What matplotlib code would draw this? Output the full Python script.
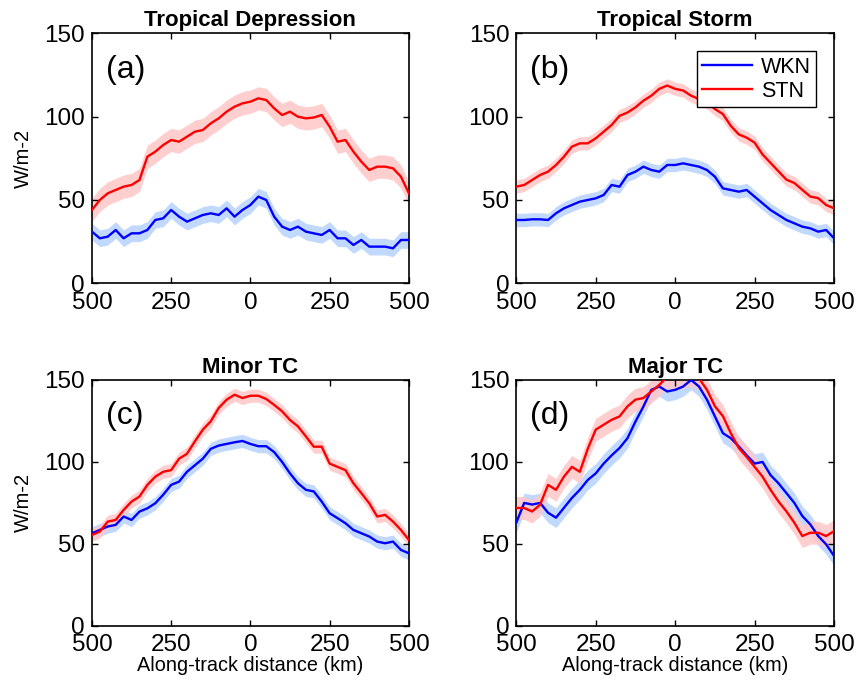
import numpy as np
import matplotlib.pyplot as plt

plt.rcParams['font.family'] = ['Liberation Sans', 'DejaVu Sans']

# ---------- Data ----------

dist = np.arange(-500, 501, 25)

titles = ["Tropical Depression", "Tropical Storm", "Minor TC", "Major TC"]
panel_tags = ["(a)", "(b)", "(c)", "(d)"]

wkn_a = [31, 27, 28, 32, 27, 30, 30, 32, 38, 39, 44, 40, 37, 39, 41, 42, 41, 45, 40, 44, 47,
         52, 50, 40, 34, 32, 34, 31, 30, 29, 32, 27, 27, 23, 26, 22, 22, 22, 21, 26, 26]
stn_a = [44, 50, 54, 56, 58, 59, 62, 76, 79, 83, 86, 85, 88, 91, 92, 96, 99, 103, 106, 108, 109,
         111, 110, 105, 101, 103, 100, 99, 99.5, 101, 94, 85, 86, 79, 73, 68, 70, 70, 69, 64, 54]

wkn_b = [38, 38, 38.4, 38.4, 38, 42, 45, 47, 49, 50, 51, 53, 59, 58, 65, 67, 70, 68, 67, 71, 71,
         72, 71, 70, 68, 64, 57, 56, 55, 56, 52, 48, 44, 41, 38, 36, 34, 33, 31, 32, 27]
stn_b = [58, 59, 62, 65, 67, 71, 76, 82, 84, 84, 87, 91, 95, 100.5, 102.5, 105.6, 109.6, 112.6,
         116.7, 118.7, 116.7, 115.7, 112.6, 110.6, 108.6, 104.6, 101.6, 94.5, 89.4, 87.4, 84.4,
         77.3, 72.3, 67.2, 62.2, 60.2, 56.1, 52.1, 51.1, 47, 45]

wkn_c = [56.5, 58.5, 60.6, 61.6, 66.7, 64.6, 69.7, 71.7, 74.8, 80, 86, 88, 94, 98, 102, 108, 110,
         111, 112, 112.8, 111, 109.6, 109.6, 106, 100, 93, 87, 83, 82, 75.8, 68.7, 65.7, 62.6,
         58.5, 56.5, 54.5, 51.4, 50.4, 51.4, 46.3, 44.3]
stn_c = [55.5, 57.5, 63.6, 64.6, 70.7, 75.8, 78.9, 86, 91, 94, 95, 102, 105, 112.6, 119.7, 124.8,
         132.9, 138, 141, 139, 140.4, 140.4, 138.4, 134.8, 130.9, 125.6, 121.7, 115.6, 109.3,
         109.3, 99, 97, 95, 87, 81, 74.8, 66.7, 67.7, 63.6, 58.5, 52.4]

wkn_d = [62.9, 75, 74, 75, 69, 66, 72, 78, 83, 89, 93, 99, 104, 108.5, 114.5, 124.6, 133.8, 144,
         146, 143, 144, 146, 150, 146, 138, 127.8, 117.6, 114.5, 109.5, 104, 99, 100, 92, 87, 81,
         75, 67, 61.9, 54.8, 49.7, 42.6]
stn_d = [71.9, 71.9, 69.8, 73.9, 86, 83, 91, 97, 94, 108, 119.7, 122.7, 125.7, 127.8, 133.9, 138,
         139, 143, 147, 152, 151, 152, 153, 151, 144, 134, 128, 117.6, 108.5, 103, 97, 91, 83,
         75.9, 69.8, 62.9, 54.8, 56.8, 56.8, 54.8, 57.8]

# half-width of the shaded uncertainty band
wkn_err = [5, 4, 4, 6]
stn_err = [7, 4, 4, 7]

wkn_all = [wkn_a, wkn_b, wkn_c, wkn_d]
stn_all = [stn_a, stn_b, stn_c, stn_d]

xticks = [-500, -250, 0, 250, 500]
xtick_labels = ["500", "250", "0", "250", "500"]
yticks = [0, 50, 100, 150]

# ---------- Figure ----------

fig = plt.figure(figsize=(8.59, 6.81), dpi=100)
positions = [
    [0.107, 0.584, 0.369, 0.367],
    [0.601, 0.584, 0.370, 0.367],
    [0.107, 0.081, 0.369, 0.361],
    [0.601, 0.081, 0.370, 0.361],
]

for i, pos in enumerate(positions):
    ax = fig.add_axes(pos)
    wkn = np.array(wkn_all[i])
    stn = np.array(stn_all[i])

    ax.fill_between(dist, wkn - wkn_err[i], wkn + wkn_err[i], color=(0.76, 0.85, 1.0),
                    lw=0, zorder=1)
    ax.fill_between(dist, stn - stn_err[i], stn + stn_err[i], color=(1.0, 0.78, 0.78),
                    lw=0, alpha=0.85, zorder=1)
    ax.plot(dist, wkn, color=(0.0, 0.0, 1.0), lw=1.7, label="WKN", zorder=3)
    ax.plot(dist, stn, color=(1.0, 0.0, 0.0), lw=1.7, label="STN", zorder=3)

    ax.set_xlim(-500, 500)
    ax.set_ylim(0, 150)
    ax.set_xticks(xticks)
    ax.set_xticklabels(xtick_labels)
    ax.set_yticks(yticks)
    ax.tick_params(direction="in", top=True, right=True, labelsize=17.5, length=4,
                   width=1)
    ax.tick_params(axis="x", pad=6)
    ax.tick_params(axis="y", pad=5)
    for s in ax.spines.values():
        s.set_linewidth(1.2)

    ax.set_title(titles[i], fontsize=16, fontweight="bold", pad=5)
    ax.text(0.044, 0.915, panel_tags[i], transform=ax.transAxes, fontsize=23,
            va="top", ha="left")

    if i % 2 == 0:
        ax.set_ylabel("W/m-2", fontsize=14.5, labelpad=8)
    if i >= 2:
        ax.set_xlabel("Along-track distance (km)", fontsize=14.3, labelpad=0)
    if i == 1:
        leg = ax.legend(loc="upper right", bbox_to_anchor=(0.943, 0.928), borderaxespad=0,
                        fontsize=15.5, handlelength=2.3, fancybox=False, framealpha=1,
                        edgecolor="black", borderpad=0.25, labelspacing=0.15,
                        handletextpad=0.4)
        leg.get_frame().set_linewidth(1.0)

fig.savefig("out.png", dpi=100)
